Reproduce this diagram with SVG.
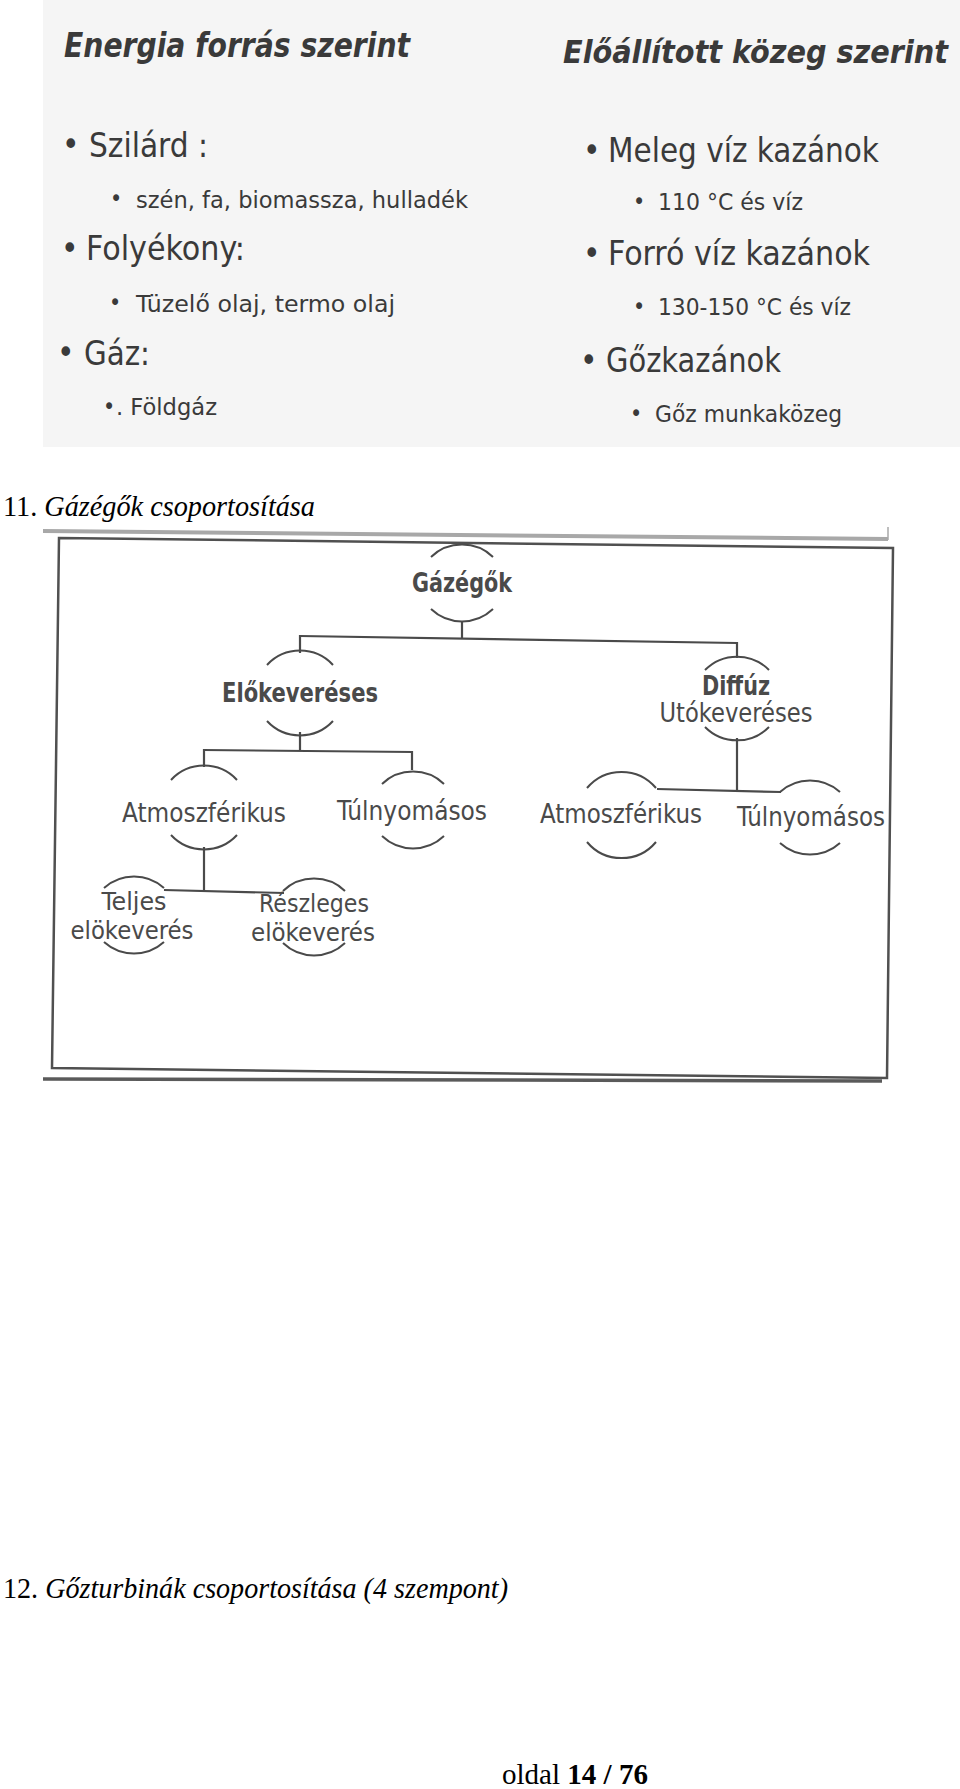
<svg xmlns="http://www.w3.org/2000/svg" width="960" height="1789" viewBox="0 0 960 1789">
<style>
.bg{fill:#ffffff}
.scan{fill:#f5f5f5}
.th{font-family:"DejaVu Sans Condensed","DejaVu Sans",sans-serif;font-weight:bold;font-style:italic;fill:#3a3a3a}
.tm{font-family:"DejaVu Sans Condensed","DejaVu Sans",sans-serif;fill:#3a3a3a;font-size:33px}
.ts{font-family:"DejaVu Sans Condensed","DejaVu Sans",sans-serif;fill:#3a3a3a;font-size:23px}
.serif{font-family:"Liberation Serif","Times New Roman",serif;fill:#000;font-size:30px}
.nd{font-family:"DejaVu Sans Condensed","DejaVu Sans",sans-serif;fill:#4a4a4a;font-size:26px;text-anchor:middle}
.nd2{font-size:24px}
.ndb{font-weight:bold}
.arc{fill:none;stroke:#4a4a4a;stroke-width:2}
.con{fill:none;stroke:#4a4a4a;stroke-width:2.2}
.frame{fill:none;stroke:#505050;stroke-width:2.5}
</style>
<rect class="bg" x="0" y="0" width="960" height="1789"/>

<!-- scanned top table -->
<g id="top-image">
<rect class="scan" x="43" y="0" width="917" height="447"/>
<text class="th" x="64" y="57" font-size="34" textLength="346" lengthAdjust="spacingAndGlyphs">Energia forrás szerint</text>
<text class="th" x="563" y="63" font-size="32" textLength="385" lengthAdjust="spacingAndGlyphs">Előállított közeg szerint</text>

<text class="tm" x="62" y="156">•</text>
<text class="tm" x="89" y="157" textLength="119" lengthAdjust="spacingAndGlyphs">Szilárd :</text>
<text class="ts" x="110" y="206">•</text>
<text class="ts" x="136" y="208" textLength="332" lengthAdjust="spacingAndGlyphs">szén, fa, biomassza, hulladék</text>
<text class="tm" x="61" y="260">•</text>
<text class="tm" x="86" y="260" textLength="159" lengthAdjust="spacingAndGlyphs">Folyékony:</text>
<text class="ts" x="109" y="310">•</text>
<text class="ts" x="136" y="312" textLength="259" lengthAdjust="spacingAndGlyphs">Tüzelő olaj, termo olaj</text>
<text class="tm" x="57" y="364">•</text>
<text class="tm" x="84" y="365" textLength="66" lengthAdjust="spacingAndGlyphs">Gáz:</text>
<text class="ts" x="103" y="414">•</text>
<text class="ts" x="116" y="415" textLength="101" lengthAdjust="spacingAndGlyphs">. Földgáz</text>

<text class="tm" x="583" y="162">•</text>
<text class="tm" x="608" y="162" textLength="271" lengthAdjust="spacingAndGlyphs">Meleg víz kazánok</text>
<text class="ts" x="633" y="209">•</text>
<text class="ts" x="658" y="210" textLength="145" lengthAdjust="spacingAndGlyphs">110 °C és víz</text>
<text class="tm" x="583" y="265">•</text>
<text class="tm" x="608" y="265" textLength="262" lengthAdjust="spacingAndGlyphs">Forró víz kazánok</text>
<text class="ts" x="633" y="314">•</text>
<text class="ts" x="658" y="315" textLength="193" lengthAdjust="spacingAndGlyphs">130-150 °C és víz</text>
<text class="tm" x="580" y="372">•</text>
<text class="tm" x="606" y="372" textLength="175" lengthAdjust="spacingAndGlyphs">Gőzkazánok</text>
<text class="ts" x="630" y="421">•</text>
<text class="ts" x="655" y="422" textLength="187" lengthAdjust="spacingAndGlyphs">Gőz munkaközeg</text>
</g>

<text class="serif" x="3" y="516" textLength="312" lengthAdjust="spacingAndGlyphs">11. <tspan font-style="italic">Gázégők csoportosítása</tspan></text>

<!-- frame -->
<g id="frame">
<line x1="43" y1="531" x2="888" y2="539" stroke="#a8a8a8" stroke-width="4"/>
<line x1="888" y1="527" x2="888" y2="540" stroke="#a8a8a8" stroke-width="1.5"/>
<polygon class="frame" points="59,538 893,548 887,1078 52,1068"/>
<line x1="43" y1="1079" x2="882" y2="1081" stroke="#5a5a5a" stroke-width="3.5"/>
</g>

<!-- connectors -->
<g id="connectors">
<line class="con" x1="462" y1="622" x2="462" y2="638"/>
<line class="con" x1="300" y1="636" x2="737" y2="643"/>
<line class="con" x1="300" y1="635" x2="300" y2="653"/>
<line class="con" x1="737" y1="642" x2="737" y2="658"/>
<line class="con" x1="300" y1="732" x2="300" y2="751"/>
<line class="con" x1="203" y1="750" x2="413" y2="752"/>
<line class="con" x1="204" y1="749" x2="204" y2="767"/>
<line class="con" x1="412" y1="751" x2="412" y2="770"/>
<line class="con" x1="737" y1="738" x2="737" y2="791"/>
<line class="con" x1="657" y1="789" x2="781" y2="792"/>
<line class="con" x1="204" y1="847" x2="204" y2="892"/>
<line class="con" x1="164" y1="890" x2="284" y2="893"/>
</g>

<!-- nodes -->
<g id="node-gazegok">
<path class="arc" d="M431,557 A45,45 0 0 1 493,557"/>
<path class="arc" d="M431,609 A45,45 0 0 0 493,609"/>
<text class="nd ndb" x="462" y="592" textLength="100" lengthAdjust="spacingAndGlyphs">Gázégők</text>
</g>
<g id="node-elokeveréses">
<path class="arc" d="M267,665 A45,45 0 0 1 333,665"/>
<path class="arc" d="M267,721 A45,45 0 0 0 333,721"/>
<text class="nd ndb" x="300" y="702" textLength="156" lengthAdjust="spacingAndGlyphs">Előkeveréses</text>
</g>
<g id="node-diffuz">
<path class="arc" d="M705,670 A45,45 0 0 1 769,670"/>
<path class="arc" d="M705,727 A45,45 0 0 0 769,727"/>
<text class="nd ndb" x="736" y="695" textLength="68" lengthAdjust="spacingAndGlyphs">Diffúz</text>
<text class="nd" x="736" y="722" textLength="153" lengthAdjust="spacingAndGlyphs">Utókeveréses</text>
</g>
<g id="node-atmo-left">
<path class="arc" d="M171,780 A45,45 0 0 1 237,780"/>
<path class="arc" d="M171,835 A45,45 0 0 0 237,835"/>
<text class="nd" x="204" y="822" textLength="164" lengthAdjust="spacingAndGlyphs">Atmoszférikus</text>
</g>
<g id="node-tuln-left">
<path class="arc" d="M382,784 A45,45 0 0 1 444,784"/>
<path class="arc" d="M382,836 A45,45 0 0 0 444,836"/>
<text class="nd" x="412" y="820" textLength="150" lengthAdjust="spacingAndGlyphs">Túlnyomásos</text>
</g>
<g id="node-atmo-right">
<path class="arc" d="M587,788 A45,45 0 0 1 656,788"/>
<path class="arc" d="M587,842 A45,45 0 0 0 656,842"/>
<text class="nd" x="621" y="823" textLength="162" lengthAdjust="spacingAndGlyphs">Atmoszférikus</text>
</g>
<g id="node-tuln-right">
<path class="arc" d="M780,792 A45,45 0 0 1 840,792"/>
<path class="arc" d="M780,843 A45,45 0 0 0 840,843"/>
<text class="nd" x="811" y="826" textLength="148" lengthAdjust="spacingAndGlyphs">Túlnyomásos</text>
</g>
<g id="node-teljes">
<path class="arc" d="M104,888 A45,45 0 0 1 164,888"/>
<path class="arc" d="M104,942 A45,45 0 0 0 164,942"/>
<text class="nd nd2" x="134" y="910" textLength="65" lengthAdjust="spacingAndGlyphs">Teljes</text>
<text class="nd nd2" x="132" y="939" textLength="123" lengthAdjust="spacingAndGlyphs">elökeverés</text>
</g>
<g id="node-reszleges">
<path class="arc" d="M283,891 A45,45 0 0 1 345,891"/>
<path class="arc" d="M283,943 A45,45 0 0 0 345,943"/>
<text class="nd nd2" x="314" y="912" textLength="110" lengthAdjust="spacingAndGlyphs">Részleges</text>
<text class="nd nd2" x="313" y="941" textLength="124" lengthAdjust="spacingAndGlyphs">elökeverés</text>
</g>

<text class="serif" x="3" y="1598" textLength="505" lengthAdjust="spacingAndGlyphs">12. <tspan font-style="italic">Gőzturbinák csoportosítása (4 szempont)</tspan></text>
<text class="serif" x="502" y="1784" textLength="146" lengthAdjust="spacingAndGlyphs">oldal <tspan font-weight="bold">14 / 76</tspan></text>
</svg>
